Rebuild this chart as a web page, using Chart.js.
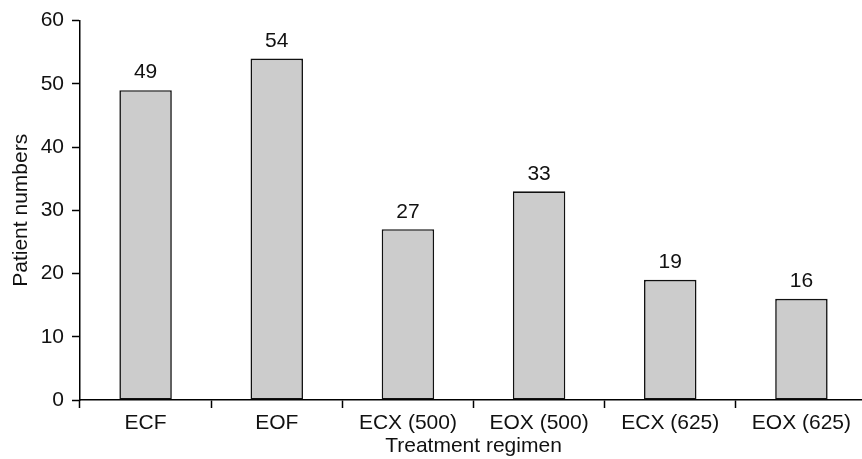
<!DOCTYPE html>
<html>
<head>
<meta charset="utf-8">
<script src="https://cdn.jsdelivr.net/npm/chart.js@4"></script>
<style>
  html, body { margin: 0; padding: 0; background: #fff; overflow: hidden; }
  #wrap { width: 870px; height: 459px; }
</style>
</head>
<body>
<div id="wrap"><canvas id="regimenChart" width="870" height="459"></canvas></div>
<script>
// data
const regimens = ["ECF", "EOF", "ECX (500)", "EOX (500)", "ECX (625)", "EOX (625)"];
const patientCounts = [49, 54, 27, 33, 19, 16];
const yTicks = [0, 10, 20, 30, 40, 50, 60];

const FONT = "'Liberation Sans', Arial, Helvetica, sans-serif";

// draws the count above each bar
const valueLabels = {
    id: "valueLabels",
    afterDatasetsDraw(chart) {
        const ctx = chart.ctx;
        const meta = chart.getDatasetMeta(0);
        ctx.save();
        ctx.font = "21px " + FONT;
        ctx.fillStyle = "#111";
        ctx.textAlign = "center";
        ctx.textBaseline = "bottom";
        meta.data.forEach((bar, i) => {
            ctx.fillText(String(patientCounts[i]), bar.x, bar.y - 7);
        });
        ctx.restore();
    }
};

const ctx = document.getElementById("regimenChart").getContext("2d");
new Chart(ctx, {
    type: "bar",
    data: {
        labels: regimens,
        datasets: [{
            data: patientCounts,
            backgroundColor: "#cccccc",
            borderColor: "#111",
            borderWidth: 1.6,
            borderSkipped: false,
            barPercentage: 0.8,
            categoryPercentage: 0.5
        }]
    },
    options: {
        responsive: false,
        animation: false,
        devicePixelRatio: 1,
        layout: { padding: { top: 20, right: 3, left: 0, bottom: 0 } },
        plugins: {
            legend: { display: false },
            tooltip: { enabled: false }
        },
        scales: {
            x: {
                offset: true,
                grid: {
                    offset: true,
                    drawOnChartArea: false,
                    drawTicks: true,
                    tickLength: 8,
                    tickColor: "#000",
                    tickWidth: 1.5
                },
                border: { color: "#000", width: 1.5 },
                ticks: {
                    color: "#111",
                    padding: 3,
                    maxRotation: 0,
                    autoSkip: false,
                    font: { family: FONT, size: 21 }
                },
                title: {
                    display: true,
                    text: "Treatment regimen",
                    color: "#111",
                    padding: { top: 0, bottom: 0 },
                    font: { family: FONT, size: 21 }
                },
                afterFit(scale) { scale.height = 59; }
            },
            y: {
                min: 0,
                max: 60,
                afterBuildTicks(scale) {
                    scale.ticks = yTicks.map(v => ({ value: v }));
                },
                grid: {
                    drawOnChartArea: false,
                    drawTicks: true,
                    tickLength: 8,
                    tickColor: "#000",
                    tickWidth: 1.5
                },
                border: { color: "#000", width: 1.5 },
                ticks: {
                    color: "#111",
                    padding: 8,
                    font: { family: FONT, size: 21 }
                },
                title: {
                    display: true,
                    text: "Patient numbers",
                    color: "#111",
                    padding: { top: 9, bottom: 0 },
                    font: { family: FONT, size: 21 }
                },
                afterFit(scale) { scale.width = 80; }
            }
        }
    },
    plugins: [valueLabels]
});
</script>
</body>
</html>
